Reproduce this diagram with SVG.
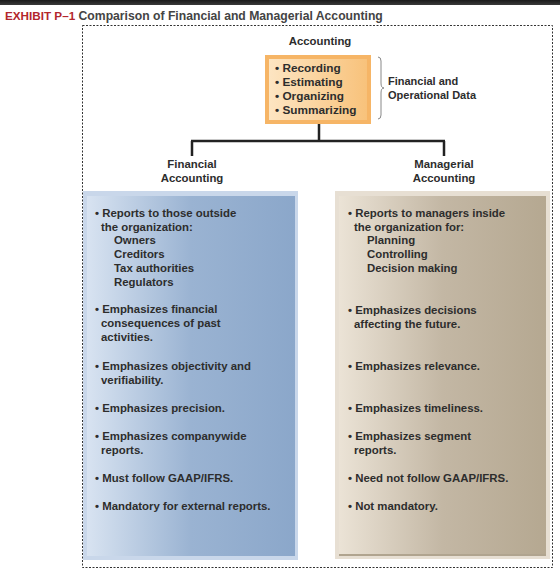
<svg xmlns="http://www.w3.org/2000/svg" width="560" height="573" viewBox="0 0 560 573">
<defs>
<linearGradient id="gBlue" x1="0" y1="0" x2="1" y2="0">
<stop offset="0" stop-color="#d8e3f1"/>
<stop offset="0.5" stop-color="#9ab3d2"/>
<stop offset="1" stop-color="#8ba7ca"/>
</linearGradient>
<linearGradient id="gBeige" x1="0" y1="0" x2="1" y2="0">
<stop offset="0" stop-color="#ebe3d6"/>
<stop offset="0.5" stop-color="#c3b7a4"/>
<stop offset="1" stop-color="#b5a891"/>
</linearGradient>
<linearGradient id="gOrange" x1="0" y1="0" x2="1" y2="0">
<stop offset="0" stop-color="#fde5c2"/>
<stop offset="1" stop-color="#f8c27b"/>
</linearGradient>
<linearGradient id="gTop" x1="0" y1="0" x2="0" y2="1">
<stop offset="0" stop-color="#1a1a1a"/>
<stop offset="1" stop-color="#3a3a3a"/>
</linearGradient>
</defs>
<style>
text{font-family:"Liberation Sans",Arial,sans-serif;font-weight:bold;font-size:11px;fill:#2d2d2d}
.t{font-size:11.4px}
.o{font-size:11.8px}
.hd{font-size:11.4px}
.h{text-anchor:middle}
.red{fill:#b3262c;font-size:11.7px}
.sub{fill:#444;font-size:12.2px}
.conn{stroke:#222;stroke-width:2.5;fill:none}
.dash{stroke:#333;stroke-width:1;fill:none;stroke-dasharray:2 1.5}
</style>
<rect x="0" y="0" width="560" height="573" fill="#ffffff"/>
<rect x="0" y="0" width="560" height="5" fill="url(#gTop)"/>
<text x="5" y="19.5"><tspan class="red">EXHIBIT P–1</tspan><tspan class="sub"> Comparison of Financial and Managerial Accounting</tspan></text>
<rect class="dash" x="82.5" y="25.5" width="470" height="542"/>

<g id="accounting">
<text class="h hd" x="320" y="45">Accounting</text>
<rect x="265" y="55" width="106" height="69" fill="#f6b566"/>
<rect x="269" y="59" width="98" height="61" fill="url(#gOrange)"/>
<text class="o" x="275" y="71.5">• Recording</text>
<text class="o" x="275" y="85.8">• Estimating</text>
<text class="o" x="275" y="100">• Organizing</text>
<text class="o" x="275" y="114.3">• Summarizing</text>
</g>
<g id="data-label">
<path d="M378,57 q3,0 3,4 v22 q0,5 3,5 q-3,0 -3,5 v22 q0,4 -3,4" fill="none" stroke="#888" stroke-width="1"/>
<text x="388" y="85">Financial and</text>
<text x="388" y="99">Operational Data</text>
</g>

<g id="connectors">
<path class="conn" d="M319,124 V141 M191,141 H445 M192,141 V156 M444,141 V156"/>
</g>

<g id="financial">
<text class="h hd" x="192" y="168">Financial</text>
<text class="h hd" x="192" y="182">Accounting</text>
<rect x="83" y="191" width="215" height="369" fill="#c9d7ea"/>
<rect x="87" y="196" width="208" height="360" fill="url(#gBlue)"/>
<text class="t" x="95" y="216.5">• Reports to those outside</text>
<text class="t" x="101" y="230.5">the organization:</text>
<text class="t" x="114" y="244">Owners</text>
<text class="t" x="114" y="258">Creditors</text>
<text class="t" x="114" y="271.5">Tax authorities</text>
<text class="t" x="114" y="285.5">Regulators</text>
<text class="t" x="95" y="313">• Emphasizes financial</text>
<text class="t" x="101" y="327">consequences of past</text>
<text class="t" x="101" y="341">activities.</text>
<text class="t" x="95" y="369.5">• Emphasizes objectivity and</text>
<text class="t" x="101" y="383.5">verifiability.</text>
<text class="t" x="95" y="412">• Emphasizes precision.</text>
<text class="t" x="95" y="440">• Emphasizes companywide</text>
<text class="t" x="101" y="454">reports.</text>
<text class="t" x="95" y="482">• Must follow GAAP/IFRS.</text>
<text class="t" x="95" y="510">• Mandatory for external reports.</text>
</g>

<g id="managerial">
<text class="h hd" x="444" y="168">Managerial</text>
<text class="h hd" x="444" y="182">Accounting</text>
<rect x="335" y="191" width="215" height="368" fill="#e7dfd3"/>
<rect x="339" y="196" width="207" height="358" fill="url(#gBeige)"/>
<rect x="339" y="554" width="207" height="2" fill="#b0a48f"/>
<text class="t" x="348" y="216.5">• Reports to managers inside</text>
<text class="t" x="354" y="230.5">the organization for:</text>
<text class="t" x="367" y="244">Planning</text>
<text class="t" x="367" y="258">Controlling</text>
<text class="t" x="367" y="272">Decision making</text>
<text class="t" x="348" y="314">• Emphasizes decisions</text>
<text class="t" x="354" y="328">affecting the future.</text>
<text class="t" x="348" y="370">• Emphasizes relevance.</text>
<text class="t" x="348" y="412">• Emphasizes timeliness.</text>
<text class="t" x="348" y="440">• Emphasizes segment</text>
<text class="t" x="354" y="454">reports.</text>
<text class="t" x="348" y="482">• Need not follow GAAP/IFRS.</text>
<text class="t" x="348" y="510">• Not mandatory.</text>
</g>
</svg>
